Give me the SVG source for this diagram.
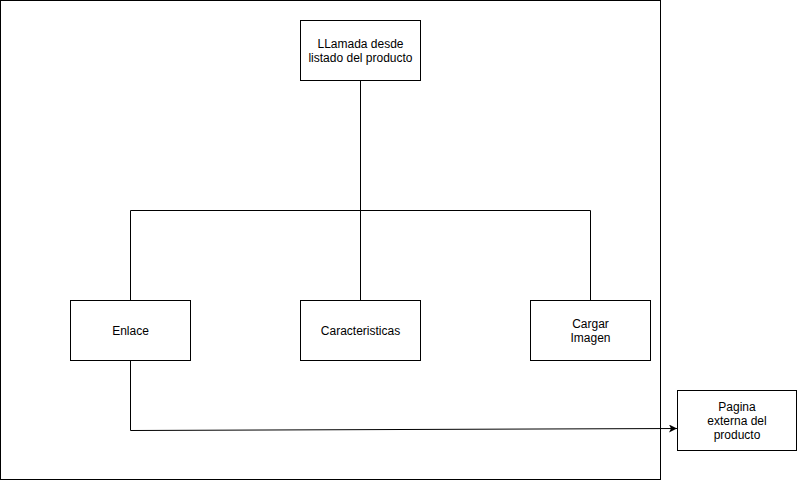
<svg xmlns="http://www.w3.org/2000/svg" width="798" height="481" viewBox="0 0 798 481">
<style>
.box{fill:#fff;stroke:#000;stroke-width:1}
.lbl{font-family:"Liberation Sans",Arial,sans-serif;font-size:12px;fill:#000;text-anchor:middle}
.con{fill:none;stroke:#000;stroke-width:1}
</style>
<defs>
<marker id="arr" markerWidth="10" markerHeight="8" refX="8" refY="4" orient="auto" markerUnits="userSpaceOnUse">
<path d="M0,0 L8,4 L0,8 L2,4 Z" fill="#000"/>
</marker>
</defs>
<rect x="0.5" y="0.5" width="660" height="479" fill="#fff" stroke="#000"/>
<g id="connectors">
<path class="con" d="M360.5,80.5 V210.5"/>
<path class="con" d="M130.5,300.5 V210.5 H590.5 V300.5"/>
<path class="con" d="M360.5,210.5 V300.5"/>
<path class="con" d="M130.5,360.5 V430.5 L677,428.5" marker-end="url(#arr)"/>
</g>
<g id="llamada">
<rect class="box" x="300.5" y="20.5" width="120" height="60"/>
<text class="lbl" x="360.5" y="48">LLamada desde</text>
<text class="lbl" x="360.5" y="62">listado del producto</text>
</g>
<g id="enlace">
<rect class="box" x="70.5" y="300.5" width="120" height="60"/>
<text class="lbl" x="130.5" y="335">Enlace</text>
</g>
<g id="caracteristicas">
<rect class="box" x="300.5" y="300.5" width="120" height="60"/>
<text class="lbl" x="360.5" y="335">Caracteristicas</text>
</g>
<g id="cargar">
<rect class="box" x="530.5" y="300.5" width="120" height="60"/>
<text class="lbl" x="590.5" y="328">Cargar</text>
<text class="lbl" x="590.5" y="342">Imagen</text>
</g>
<g id="pagina">
<rect class="box" x="677.5" y="390.5" width="119" height="60"/>
<text class="lbl" x="737" y="411">Pagina</text>
<text class="lbl" x="737" y="425">externa del</text>
<text class="lbl" x="737" y="439">producto</text>
</g>
</svg>
